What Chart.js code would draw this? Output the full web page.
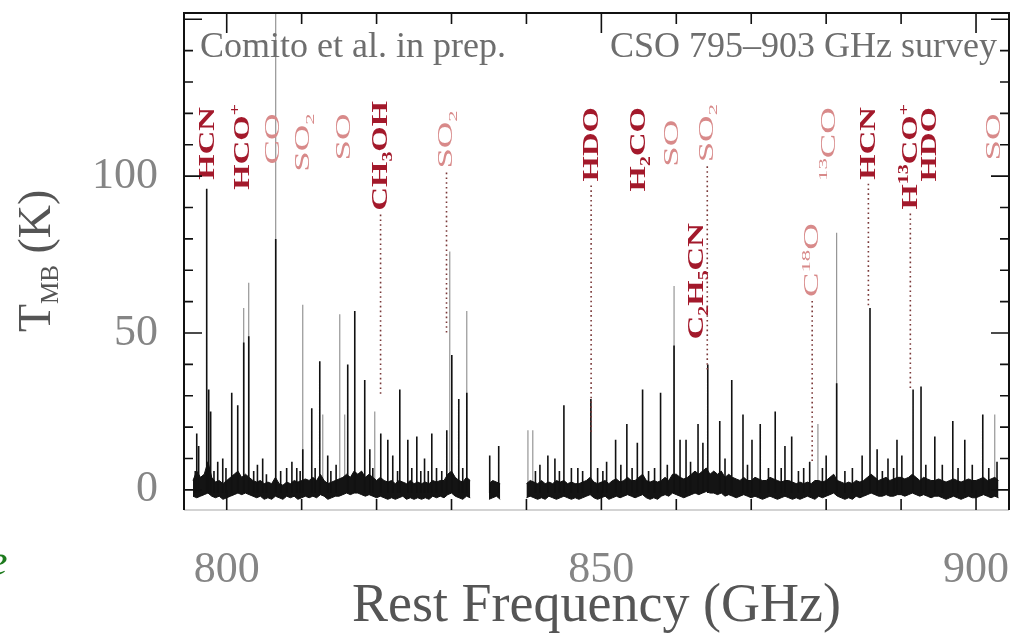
<!DOCTYPE html>
<html>
<head>
<meta charset="utf-8">
<script src="https://cdn.jsdelivr.net/npm/chart.js@4.4.1/dist/chart.umd.min.js"></script>
<style>
  html, body { margin: 0; padding: 0; background: #fff; }
  #wrap { width: 1015px; height: 634px; position: relative; }
</style>
</head>
<body>
<div id="wrap"><canvas id="spectrum"></canvas></div>
<script>
// Frequency grid of the noise floor: 795.5 .. 903.0 GHz every 0.5 GHz (null = no data)
const noiseStart = 795.5;
const noiseStep = 0.5;
const noiseHigh = [
  3, 6, 4, 5, 9, 4, 2.5, 3, 2, 3,
  4, 5, 6, 4, 5, 4, 3, 2.5, 3, 2,
  2.5, 2, 4, 2, 1.5, 2.5, 2, 3, 2.5, 3,
  3.5, 3, 4, 3, 5, 3, 2, 2.5, 3, 3.5,
  4, 5, 4, 6, 5, 6, 4, 5, 4, 3,
  4, 3, 2.5, 3, 2, 3, 2.5, 2, 3, 2,
  2.5, 2, 2.5, 2, 3, 2.5, 3, 3, 5, 6,
  4, 3, 2.5, 4, 3,
  null, null, null, null,
  2, 3, 2.5, 2,
  null, null, null, null, null, null,
  2, 3, 2.5, 2, 3, 2, 2.5, 2, 3, 2.5,
  3, 2, 2.5, 2, 2, 2.5, 3, 4, 2.5, 2,
  2.5, 3, 2, 3, 3.5, 2.5, 3, 4, 3, 3,
  4, 5, 3, 2.5, 3, 2.5, 3, 4, 3, 5,
  5, 4, 3.5, 4, 5, 6, 5, 6, 7, 5,
  6, 5, 6, 4, 5, 4, 3.5, 3, 4, 3,
  3, 4, 3.5, 3, 3, 4, 3.5, 3, 2.5, 3,
  3, 2.5, 2, 2.5, 2, 2.5, 2, 3, 3, 2.5,
  3, 4, 5, 3, 2.5, 2, 2.5, 2, 3, 2.5,
  3, 4, 5, 4, 3, 3.5, 4, 3, 3.5, 4,
  4, 3.5, 4, 5, 4, 3, 4, 3.5, 3, 3,
  3.5, 3, 2.5, 3, 3.5, 3, 2.5, 3, 3.5, 3,
  3, 3.5, 4, 3, 3.5, 4, 3
];
const noiseLow = [
  -2, -2.5, -2, -1.5, -1, -2, -2.5, -2, -3, -2.5,
  -2, -1.5, -1, -1.5, -1, -1.5, -2, -2.5, -2, -3,
  -2.5, -3, -2, -2.5, -3, -2, -2.5, -2, -3, -2.5,
  -2, -2.5, -2, -2.5, -1.5, -2, -3, -2.5, -2, -2,
  -1.5, -1, -1.5, -1, -1, -1.5, -2, -1.5, -2, -2.5,
  -2, -2.5, -3, -2.5, -3, -2.5, -2, -3, -2.5, -3,
  -2.5, -3, -2.5, -3, -2, -2.5, -2, -2.5, -1.5, -1,
  -2, -2.5, -3, -2, -2.5,
  null, null, null, null,
  -3, -2.5, -2, -3,
  null, null, null, null, null, null,
  -2.5, -2, -2.5, -3, -2.5, -3, -2, -2.5, -3, -2.5,
  -2, -2.5, -3, -2.5, -3, -2.5, -2, -1.5, -2.5, -3,
  -2.5, -2, -3, -2.5, -2, -2.5, -2, -1.5, -2, -2.5,
  -2, -1.5, -2.5, -3, -2.5, -3, -2, -1.5, -2, -1,
  -1.5, -2, -2.5, -2, -1.5, -1, -1.5, -1, -0.5, -1,
  -1, -1.5, -1, -2, -1.5, -2, -2.5, -2, -1.5, -2,
  -2.5, -2, -2.5, -3, -2.5, -2, -2.5, -3, -2.5, -2,
  -2.5, -3, -2.5, -3, -2.5, -2, -2.5, -3, -2, -2.5,
  -2, -1.5, -1, -2, -2.5, -3, -2.5, -3, -2, -2.5,
  -2, -1.5, -1, -1.5, -2, -2, -1.5, -2, -2, -1.5,
  -1.5, -2, -1.5, -1, -1.5, -2, -1.5, -2, -2.5, -2,
  -2, -2.5, -3, -2.5, -2, -2.5, -3, -2.5, -2, -2.5,
  -2.5, -2, -1.5, -2, -2.5, -2, -2.5
];

// Emission lines drawn dark (frequency GHz, peak T_MB K)
const darkFreq = [
  795.8, 796.0, 796.26, 797.33, 797.6, 797.86, 798.3, 798.8, 799.47, 799.9,
  800.67, 801.47, 802.27, 802.94, 803.6, 804.1, 804.8, 805.3, 806.54, 807.2,
  808.0, 808.7, 809.35, 809.8, 810.15, 811.35, 811.8, 812.42, 813.48, 813.9,
  814.6, 816.15, 817.09, 818.42, 819.1, 819.5, 820.56, 821.5, 822.16, 822.8,
  823.1, 824.17, 824.7, 825.37, 825.9, 826.4, 826.9, 827.37, 828.0, 828.7,
  829.37, 830.04, 830.97, 831.5, 832.04, 835.1, 836.3, 841.2, 841.8, 842.86,
  843.8, 844.4, 845.0, 846.0, 846.86, 847.5, 848.6, 849.5, 850.2, 850.7,
  851.9, 852.6, 853.4, 854.1, 854.8, 855.5, 856.3, 857.1, 857.9, 858.8,
  859.7, 860.5, 861.3, 861.9, 862.9, 863.55, 864.2, 865.8, 866.5, 867.4,
  868.9, 869.5, 870.1, 871.2, 872.3, 873.2, 874.0, 874.5, 875.4, 876.3,
  877.0, 877.8, 879.5, 880.0, 881.4, 882.5, 883.5, 884.8, 885.85, 886.8,
  887.5, 888.25, 889.0, 889.45, 890.1, 891.6, 892.66, 893.3, 894.5, 895.5,
  896.9, 897.6, 898.5, 899.5, 900.9, 901.7, 902.8
];
const darkT = [
  6, 18, 14, 96, 32, 25, 6, 9, 10, 7,
  31, 27, 47, 49, 6, 8, 10, 5, 80, 6,
  7, 9, 7, 6, 13, 26, 7, 41, 11, 6,
  8, 40, 57, 35, 13, 7, 18, 16, 11, 6,
  32, 16, 7, 17, 6, 10, 6, 18, 7, 6,
  19, 43, 29, 7, 31, 11, 14, 6, 8, 11,
  10, 6, 27, 7, 7, 6, 29, 7, 6, 9,
  16, 8, 21, 7, 15, 32, 6, 7, 31, 8,
  46, 16, 16, 9, 21, 15, 40, 22, 10, 35,
  24, 8, 16, 21, 7, 25, 7, 14, 17, 6,
  7, 9, 7, 11, 34, 6, 7, 11, 58, 13,
  6, 10, 7, 16, 11, 32, 33, 8, 17, 8,
  22, 7, 16, 8, 24, 7, 9
];

// Narrow lines that show up grey
const greyFreq = [802.27, 802.94, 806.54, 810.15, 812.82, 815.09, 815.75, 819.76, 829.77, 832.04, 840.2, 840.85, 859.7, 878.9, 881.4, 902.5];
const greyT = [58, 66, 160, 59, 24, 56, 24, 25, 76, 57, 19, 19, 65, 21, 82, 24];

// Line identifications: freq (GHz), top of label (K), optional dotted leader down to (K)
const strongLabels = [
  { text: 'HCN', freq: 797.3, top: 122 },
  { text: 'HCO^+', freq: 801.9, top: 123 },
  { text: 'CH_3OH', freq: 820.4, top: 124, leader: 30 },
  { text: 'HDO', freq: 848.5, top: 122, leader: 18 },
  { text: 'H_2CO', freq: 854.8, top: 122 },
  { text: 'C_2H_5CN', freq: 862.6, top: 85 },
  { text: 'HCN', freq: 885.5, top: 122, leader: 58 },
  { text: 'H^{13}CO^+', freq: 891.1, top: 123, leader: 32 },
  { text: 'HDO', freq: 893.6, top: 122 }
];
const weakLabels = [
  { text: 'CO', freq: 806.0, top: 120 },
  { text: 'SO_2', freq: 810.1, top: 120 },
  { text: 'SO', freq: 815.5, top: 120 },
  { text: 'SO_2', freq: 829.2, top: 121, leader: 50 },
  { text: 'SO', freq: 859.3, top: 118 },
  { text: 'SO_2', freq: 864.0, top: 123, leader: 38 },
  { text: 'C^{18}O', freq: 878.0, top: 85, leader: 9 },
  { text: '^{13}CO', freq: 880.3, top: 122 },
  { text: 'SO', freq: 902.3, top: 120 }
];

const xTickLabels = [800, 850, 900];
const yTickLabels = [0, 50, 100];

// ---- build datasets ----
const lowPts = noiseLow.map((v, i) => ({ x: noiseStart + i * noiseStep, y: v }));
const highPts = noiseHigh.map((v, i) => ({ x: noiseStart + i * noiseStep, y: v }));

function spikes(freqs, temps) {
  const pts = [];
  freqs.map((f, i) => [f, temps[i]]).sort((a, b) => a[0] - b[0]).forEach(([f, t]) => {
    pts.push({ x: f, y: -1 }, { x: f, y: t }, { x: f, y: null });
  });
  return pts;
}

function splitRuns(str) {
  const runs = [];
  let buf = '';
  let i = 0;
  while (i < str.length) {
    const c = str[i];
    if (c === '_' || c === '^') {
      if (buf) { runs.push({ t: buf, k: 0 }); buf = ''; }
      let tok;
      if (str[i + 1] === '{') {
        const j = str.indexOf('}', i);
        tok = str.slice(i + 2, j);
        i = j + 1;
      } else {
        tok = str[i + 1];
        i += 2;
      }
      runs.push({ t: tok, k: c === '_' ? 1 : -1 });
    } else {
      buf += c;
      i++;
    }
  }
  if (buf) runs.push({ t: buf, k: 0 });
  return runs;
}

// rotated label, reading upwards, ending at (x, yTop); returns its length in px
function drawUpText(ctx, x, yTop, str, size, weight, color, stretch) {
  const runs = splitRuns(str);
  const small = Math.round(size * 0.62);
  const widths = runs.map(r => {
    ctx.font = `${weight} ${r.k ? small : size}px "Liberation Serif"`;
    return ctx.measureText(r.t).width;
  });
  const total = widths.reduce((a, b) => a + b, 0);
  ctx.save();
  ctx.translate(x, yTop);
  ctx.rotate(-Math.PI / 2);
  ctx.scale(stretch, 1);
  ctx.fillStyle = color;
  ctx.textAlign = 'left';
  ctx.textBaseline = 'alphabetic';
  let cx = -total;
  const base = size * 0.33;
  runs.forEach((r, i) => {
    ctx.font = `${weight} ${r.k ? small : size}px "Liberation Serif"`;
    const dy = r.k === 1 ? size * 0.2 : (r.k === -1 ? -size * 0.4 : 0);
    ctx.fillText(r.t, cx, base + dy);
    cx += widths[i];
  });
  ctx.restore();
  return total * stretch;
}

const decorPlugin = {
  id: 'decor',
  afterDatasetsDraw(chart) {
    const ctx = chart.ctx;
    const xs = chart.scales.x;
    const ys = chart.scales.y;
    const a = chart.chartArea;

    // line identifications
    const drawLabels = (list, weight, color, stretch, size) => {
      list.forEach(l => {
        const px = xs.getPixelForValue(l.freq);
        const py = ys.getPixelForValue(l.top);
        const len = drawUpText(ctx, px, py, l.text, size, weight, color, stretch);
        if (l.leader !== undefined) {
          ctx.save();
          ctx.strokeStyle = '#7a3838';
          ctx.lineWidth = 1.6;
          ctx.setLineDash([1.6, 3.2]);
          ctx.beginPath();
          ctx.moveTo(px + 1, py + len + 4);
          ctx.lineTo(px + 1, ys.getPixelForValue(l.leader));
          ctx.stroke();
          ctx.restore();
        }
      });
    };
    drawLabels(weakLabels, 'normal', '#d88a8a', 1.75, 21);
    drawLabels(strongLabels, 'bold', '#a3192b', 1.42, 23);

    // frame
    ctx.save();
    ctx.strokeStyle = '#c4c4c4';
    ctx.lineWidth = 1.5;
    ctx.beginPath();
    ctx.moveTo(a.left, a.bottom);
    ctx.lineTo(a.right, a.bottom);
    ctx.stroke();
    ctx.strokeStyle = '#111';
    ctx.lineWidth = 2;
    ctx.beginPath();
    ctx.moveTo(a.left, a.bottom);
    ctx.lineTo(a.left, a.top);
    ctx.lineTo(a.right, a.top);
    ctx.lineTo(a.right, a.bottom);
    ctx.stroke();

    // inward ticks
    ctx.lineWidth = 1.6;
    ctx.beginPath();
    for (let v = 800; v <= 900; v += 10) {
      const px = xs.getPixelForValue(v);
      const len = v % 50 === 0 ? 20 : 11;
      ctx.moveTo(px, a.top); ctx.lineTo(px, a.top + len);
      ctx.moveTo(px, a.bottom); ctx.lineTo(px, a.bottom - len);
    }
    for (let v = 0; v <= 150; v += 10) {
      const py = ys.getPixelForValue(v);
      const len = v % 50 === 0 ? 18 : 9;
      ctx.moveTo(a.left, py); ctx.lineTo(a.left + len, py);
      ctx.moveTo(a.right, py); ctx.lineTo(a.right - len, py);
    }
    ctx.stroke();

    // header text
    ctx.fillStyle = '#6e6e6e';
    ctx.font = '36px "Liberation Serif"';
    ctx.textBaseline = 'alphabetic';
    ctx.textAlign = 'left';
    ctx.fillText('Comito et al. in prep.', a.left + 16, a.top + 44);
    ctx.textAlign = 'right';
    ctx.fillText('CSO 795\u2013903 GHz survey', a.right - 12, a.top + 44);

    // y axis title T_MB (K)
    ctx.translate(50, 332);
    ctx.rotate(-Math.PI / 2);
    ctx.fillStyle = '#555';
    ctx.textAlign = 'left';
    ctx.font = '46px "Liberation Serif"';
    ctx.fillText('T', 0, 0);
    let w = ctx.measureText('T').width;
    ctx.font = '25px "Liberation Serif"';
    ctx.fillText('MB', w, 8);
    w += ctx.measureText('MB').width;
    ctx.font = '46px "Liberation Serif"';
    ctx.fillText(' (K)', w, 0);
    ctx.restore();

    // green glyph cut at the left edge
    ctx.save();
    ctx.fillStyle = '#1d7a1d';
    ctx.font = 'italic 44px "Liberation Serif"';
    ctx.textAlign = 'left';
    ctx.fillText('e', -12, 575);
    ctx.restore();
  }
};

new Chart(document.getElementById('spectrum'), {
  type: 'line',
  data: {
    datasets: [
      { data: spikes(darkFreq, darkT), borderColor: '#111', borderWidth: 1.6, order: 0 },
      { data: lowPts, borderColor: '#111', borderWidth: 1, fill: false, order: 1 },
      { data: highPts, borderColor: '#111', borderWidth: 1, backgroundColor: '#141414', fill: '-1', order: 1 },
      { data: spikes(greyFreq, greyT), borderColor: '#8c8c8c', borderWidth: 1.1, order: 2 }
    ]
  },
  options: {
    responsive: true,
    maintainAspectRatio: false,
    devicePixelRatio: 1,
    animation: false,
    spanGaps: false,
    layout: { padding: { left: 0, right: 6, top: 13, bottom: 0 } },
    elements: { point: { radius: 0 }, line: { tension: 0 } },
    plugins: { legend: { display: false }, tooltip: { enabled: false } },
    scales: {
      x: {
        type: 'linear',
        min: 794.3,
        max: 904.4,
        grid: { display: false },
        border: { display: false },
        afterBuildTicks: s => { s.ticks = xTickLabels.map(v => ({ value: v })); },
        afterFit: s => { s.height = 124; s.paddingLeft = 0; s.paddingRight = 0; },
        ticks: {
          color: '#858585',
          font: { family: 'Liberation Serif', size: 44, lineHeight: 1 },
          padding: 30,
          maxRotation: 0,
          autoSkip: false
        },
        title: {
          display: true,
          text: 'Rest Frequency (GHz)',
          color: '#555',
          font: { family: 'Liberation Serif', size: 54, lineHeight: 1 },
          padding: 0
        }
      },
      y: {
        min: -6.4,
        max: 152,
        grid: { display: false },
        border: { display: false },
        afterBuildTicks: s => { s.ticks = yTickLabels.map(v => ({ value: v })); },
        afterFit: s => { s.width = 184; s.paddingTop = 0; s.paddingBottom = 0; },
        ticks: {
          color: '#858585',
          font: { family: 'Liberation Serif', size: 44, lineHeight: 1 },
          padding: 18
        }
      }
    }
  },
  plugins: [decorPlugin]
});
</script>
</body>
</html>
